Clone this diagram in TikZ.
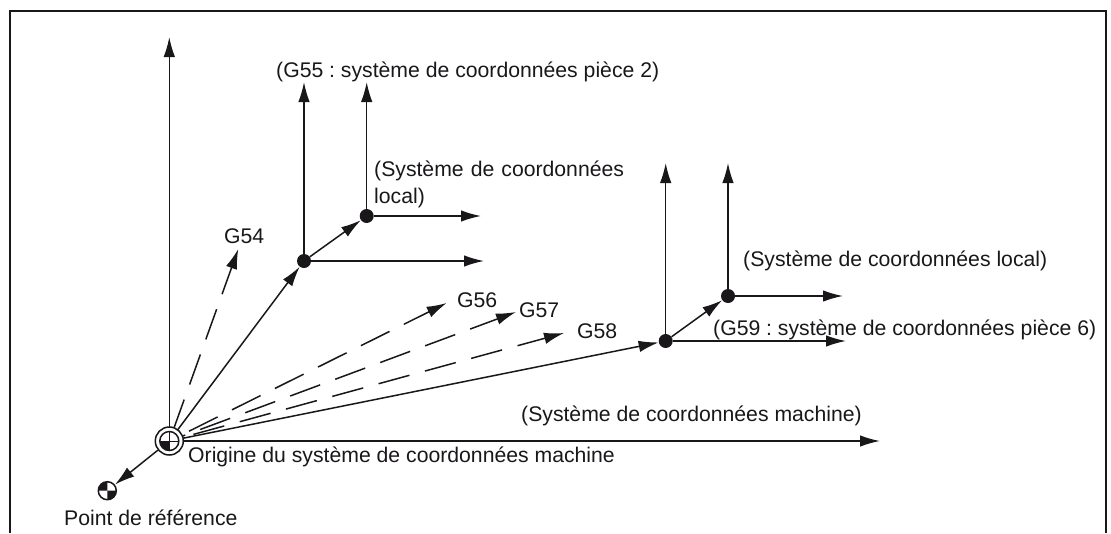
\documentclass[tikz,border=0pt]{standalone}
\usepackage{fontspec}
\setmainfont{Liberation Sans}
\usetikzlibrary{arrows.meta}
\definecolor{ink}{HTML}{1A171B}
\tikzset{
  ax/.style={draw=ink,line width=1.5pt,-{Latex[length=20pt,width=11.5pt]}},
  dashax/.style={ax,dash pattern=on 32pt off 16pt},
  dotn/.style={circle,fill=ink,inner sep=0pt,minimum size=14pt},
  lab/.style={anchor=base west,inner sep=0pt,text=ink,font=\fontsize{21.2}{27}\selectfont\frenchspacing,align=left},
  ring/.style={circle,draw=ink,line width=1.5pt,inner sep=0pt,fill=white}
}
\begin{document}
\begin{tikzpicture}[x=1pt,y=-1pt]
\useasboundingbox (0,0) rectangle (1111,533);
\draw[ink,line width=2pt] (10,533) -- (10,10.5) -- (1106,10.5) -- (1106,533);
% points
\coordinate (O) at (169.3,441);
\coordinate (R) at (107.3,490.7);
\node[dotn] (A) at (304,261) {};
\node[dotn] (B) at (366.7,216) {};
\node[dotn] (C) at (665.7,341) {};
\node[dotn] (D) at (728,296) {};
\coordinate (Oy) at (169.3,37);
\coordinate (Ox) at (880,441);
\coordinate (Ay) at (304,82);
\coordinate (Ax) at (484,261);
\coordinate (By) at (366.7,82);
\coordinate (Bx) at (481,216);
\coordinate (Cy) at (665.7,163);
\coordinate (Cx) at (846,341);
\coordinate (Dy) at (728,163);
\coordinate (Dx) at (843,296);
\coordinate (g54) at (238.3,249);
\coordinate (g56) at (446.7,303);
\coordinate (g57) at (516,312);
\coordinate (g58) at (564,333);
% axes
\draw[ax] (O) -- (Oy);
\draw[ax] (O) -- (Ox);
\draw[ax] (A) -- (Ay);
\draw[ax] (A) -- (Ax);
\draw[ax] (B) -- (By);
\draw[ax] (B) -- (Bx);
\draw[ax] (C) -- (Cy);
\draw[ax] (C) -- (Cx);
\draw[ax] (D) -- (Dy);
\draw[ax] (D) -- (Dx);
% dashed
\draw[dashax,dash phase=36pt] (O) -- (g54);
\draw[dashax,dash phase=26pt] (O) -- (g56);
\draw[dashax,dash phase=15pt] (O) -- (g57);
\draw[dashax,dash phase=23pt] (O) -- (g58);
% solid
\draw[ax] (O) -- (A);
\draw[ax] (O) -- (C);
\draw[ax] (A) -- (B);
\draw[ax] (C) -- (D);
% origin symbol
\node[ring,minimum size=28pt] (ringO) at (O) {};
\node[ring,minimum size=19pt] (ringI) at (O) {};
\fill[ink] (O) -- ++(-9.5,0) arc[start angle=180,end angle=90,radius=9.5] -- cycle;
\draw[ink,line width=1pt] (169.3,431.5) -- (169.3,450.5) (159.8,441) -- (178.8,441);
% reference symbol
\node[ring,minimum size=18pt] (ref) at (R) {};
\fill[ink] (R) -- ++(9,0) arc[start angle=0,end angle=90,radius=9] -- cycle;
\fill[ink] (R) -- ++(-9,0) arc[start angle=180,end angle=270,radius=9] -- cycle;
\draw[ax] (ringO) -- (ref);
% labels
\node[lab] (t1) at (276,77) {(G55 : système de coordonnées pièce 2)};
\node[lab,text width=280pt] (t2) at (374,176) {(Système de coordonnées\\local)};
\node[lab] (g54t) at (224,243) {G54};
\node[lab] (g56t) at (457,307) {G56};
\node[lab] (g57t) at (519,317) {G57};
\node[lab] (g58t) at (577,338) {G58};
\node[lab] (t4) at (743,266) {(Système de coordonnées local)};
\node[lab] (t5) at (713,335) {(G59 : système de coordonnées pièce 6)};
\node[lab] (t6) at (521,421) {(Système de coordonnées machine)};
\node[lab] (t7) at (188,462) {Origine du système de coordonnées machine};
\node[lab] (t8) at (64,525) {Point de référence};
\end{tikzpicture}
\end{document}
